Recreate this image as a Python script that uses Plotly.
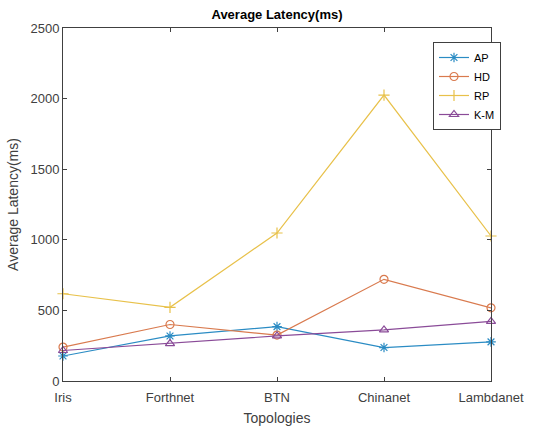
import plotly.graph_objects as go

topologies = ["Iris", "Forthnet", "BTN", "Chinanet", "Lambdanet"]
ap = [177, 319, 385, 237, 277]
hd = [240, 400, 325, 720, 518]
rp = [618, 522, 1048, 2025, 1027]
km = [216, 265, 319, 362, 422]

series = [
    ("AP", ap, "#2b8cc4", "asterisk-open"),
    ("HD", hd, "#d97a4e", "circle-open"),
    ("RP", rp, "#e8c14a", "cross-thin-open"),
    ("K-M", km, "#8a4b98", "triangle-up-open"),
]

fig = go.Figure()
for name, vals, color, sym in series:
    fig.add_trace(go.Scatter(
        x=topologies, y=vals, name=name, mode="lines+markers",
        line=dict(color=color, width=1.2),
        marker=dict(symbol=sym, size=8, color=color, line=dict(color=color, width=1.2)),
        cliponaxis=False,
    ))

fam = "Liberation Sans, Arial, sans-serif"
axis_font = dict(family=fam, size=13, color="#404040")
fig.update_layout(
    width=544, height=430,
    margin=dict(l=63, r=53, t=28, b=49),
    paper_bgcolor="white", plot_bgcolor="white",
    title=dict(text="<b>Average Latency(ms)</b>", x=(63 + 491) / 2 / 544, xanchor="center",
               y=1 - 14 / 430, yanchor="middle",
               font=dict(family=fam, size=13, color="#000000")),
    xaxis=dict(type="category", range=[0, 4], showline=True, linecolor="#404040", linewidth=1,
               mirror="ticks", ticks="inside", ticklen=4, tickcolor="#404040", automargin=False,
               showgrid=False, zeroline=False, tickfont=axis_font, ticklabelstandoff=4,
               title=dict(text="Topologies", font=dict(family=fam, size=14, color="#404040"), standoff=9)),
    yaxis=dict(range=[0, 2500], tickvals=[0, 500, 1000, 1500, 2000, 2500], showline=True,
               linecolor="#404040", linewidth=1, mirror="ticks", ticks="inside", ticklen=4,
               tickcolor="#404040", showgrid=False, zeroline=False, tickfont=axis_font, automargin=False,
               title=dict(text="Average Latency(ms)", font=dict(family=fam, size=14, color="#404040"), standoff=8)),
    legend=dict(x=(433 - 63) / 428, y=(381 - 42) / 353, xanchor="left", yanchor="top",
                bgcolor="white", bordercolor="#404040", borderwidth=1,
                font=dict(family=fam, size=11, color="#000000"),
                tracegroupgap=0, itemwidth=30),
    showlegend=True,
)

fig.write_html("out.html")
